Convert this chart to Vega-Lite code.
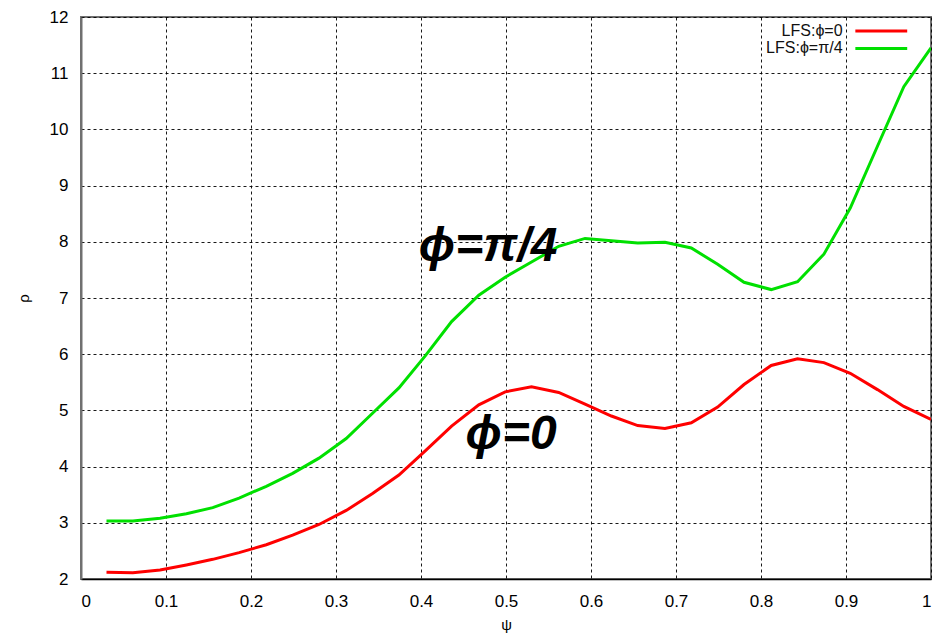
{
  "$schema": "https://vega.github.io/schema/vega-lite/v6.json",
  "width": 850,
  "height": 562,
  "autosize": "none",
  "padding": {"left": 81, "top": 17, "right": 4, "bottom": 56},
  "background": "white",
  "config": {
    "font": "Liberation Sans",
    "view": {"stroke": "#707070", "strokeWidth": 2}
  },
  "datasets": {
    "curves": [
      {"psi": 0.03, "rho": 2.12, "series": "LFS:ϕ=0"},
      {"psi": 0.061, "rho": 2.11, "series": "LFS:ϕ=0"},
      {"psi": 0.093, "rho": 2.16, "series": "LFS:ϕ=0"},
      {"psi": 0.124, "rho": 2.25, "series": "LFS:ϕ=0"},
      {"psi": 0.155, "rho": 2.35, "series": "LFS:ϕ=0"},
      {"psi": 0.186, "rho": 2.47, "series": "LFS:ϕ=0"},
      {"psi": 0.218, "rho": 2.61, "series": "LFS:ϕ=0"},
      {"psi": 0.249, "rho": 2.78, "series": "LFS:ϕ=0"},
      {"psi": 0.28, "rho": 2.97, "series": "LFS:ϕ=0"},
      {"psi": 0.312, "rho": 3.22, "series": "LFS:ϕ=0"},
      {"psi": 0.343, "rho": 3.52, "series": "LFS:ϕ=0"},
      {"psi": 0.374, "rho": 3.85, "series": "LFS:ϕ=0"},
      {"psi": 0.405, "rho": 4.28, "series": "LFS:ϕ=0"},
      {"psi": 0.436, "rho": 4.72, "series": "LFS:ϕ=0"},
      {"psi": 0.468, "rho": 5.1, "series": "LFS:ϕ=0"},
      {"psi": 0.499, "rho": 5.33, "series": "LFS:ϕ=0"},
      {"psi": 0.53, "rho": 5.42, "series": "LFS:ϕ=0"},
      {"psi": 0.562, "rho": 5.32, "series": "LFS:ϕ=0"},
      {"psi": 0.593, "rho": 5.11, "series": "LFS:ϕ=0"},
      {"psi": 0.624, "rho": 4.9, "series": "LFS:ϕ=0"},
      {"psi": 0.655, "rho": 4.73, "series": "LFS:ϕ=0"},
      {"psi": 0.687, "rho": 4.68, "series": "LFS:ϕ=0"},
      {"psi": 0.718, "rho": 4.78, "series": "LFS:ϕ=0"},
      {"psi": 0.749, "rho": 5.06, "series": "LFS:ϕ=0"},
      {"psi": 0.78, "rho": 5.46, "series": "LFS:ϕ=0"},
      {"psi": 0.812, "rho": 5.8, "series": "LFS:ϕ=0"},
      {"psi": 0.843, "rho": 5.92, "series": "LFS:ϕ=0"},
      {"psi": 0.874, "rho": 5.85, "series": "LFS:ϕ=0"},
      {"psi": 0.905, "rho": 5.66, "series": "LFS:ϕ=0"},
      {"psi": 0.937, "rho": 5.37, "series": "LFS:ϕ=0"},
      {"psi": 0.968, "rho": 5.07, "series": "LFS:ϕ=0"},
      {"psi": 1.0, "rho": 4.84, "series": "LFS:ϕ=0"},
      {"psi": 0.03, "rho": 3.03, "series": "LFS:ϕ=π/4"},
      {"psi": 0.061, "rho": 3.03, "series": "LFS:ϕ=π/4"},
      {"psi": 0.093, "rho": 3.08, "series": "LFS:ϕ=π/4"},
      {"psi": 0.124, "rho": 3.16, "series": "LFS:ϕ=π/4"},
      {"psi": 0.155, "rho": 3.27, "series": "LFS:ϕ=π/4"},
      {"psi": 0.186, "rho": 3.44, "series": "LFS:ϕ=π/4"},
      {"psi": 0.218, "rho": 3.65, "series": "LFS:ϕ=π/4"},
      {"psi": 0.249, "rho": 3.88, "series": "LFS:ϕ=π/4"},
      {"psi": 0.28, "rho": 4.15, "series": "LFS:ϕ=π/4"},
      {"psi": 0.312, "rho": 4.5, "series": "LFS:ϕ=π/4"},
      {"psi": 0.343, "rho": 4.95, "series": "LFS:ϕ=π/4"},
      {"psi": 0.374, "rho": 5.4, "series": "LFS:ϕ=π/4"},
      {"psi": 0.405, "rho": 5.97, "series": "LFS:ϕ=π/4"},
      {"psi": 0.436, "rho": 6.58, "series": "LFS:ϕ=π/4"},
      {"psi": 0.468, "rho": 7.05, "series": "LFS:ϕ=π/4"},
      {"psi": 0.499, "rho": 7.37, "series": "LFS:ϕ=π/4"},
      {"psi": 0.53, "rho": 7.64, "series": "LFS:ϕ=π/4"},
      {"psi": 0.562, "rho": 7.92, "series": "LFS:ϕ=π/4"},
      {"psi": 0.593, "rho": 8.06, "series": "LFS:ϕ=π/4"},
      {"psi": 0.624, "rho": 8.02, "series": "LFS:ϕ=π/4"},
      {"psi": 0.655, "rho": 7.98, "series": "LFS:ϕ=π/4"},
      {"psi": 0.687, "rho": 7.99, "series": "LFS:ϕ=π/4"},
      {"psi": 0.718, "rho": 7.89, "series": "LFS:ϕ=π/4"},
      {"psi": 0.749, "rho": 7.6, "series": "LFS:ϕ=π/4"},
      {"psi": 0.78, "rho": 7.28, "series": "LFS:ϕ=π/4"},
      {"psi": 0.812, "rho": 7.15, "series": "LFS:ϕ=π/4"},
      {"psi": 0.843, "rho": 7.29, "series": "LFS:ϕ=π/4"},
      {"psi": 0.874, "rho": 7.78, "series": "LFS:ϕ=π/4"},
      {"psi": 0.905, "rho": 8.6, "series": "LFS:ϕ=π/4"},
      {"psi": 0.937, "rho": 9.7, "series": "LFS:ϕ=π/4"},
      {"psi": 0.968, "rho": 10.76, "series": "LFS:ϕ=π/4"},
      {"psi": 1.0, "rho": 11.45, "series": "LFS:ϕ=π/4"}
    ],
    "legendRows": [
      {"psi": 0.896, "psi1": 0.911, "psi2": 0.972, "rho": 11.75, "series": "LFS:ϕ=0"},
      {"psi": 0.896, "psi1": 0.911, "psi2": 0.972, "rho": 11.44, "series": "LFS:ϕ=π/4"}
    ],
    "bigLabels": [
      {"psi": 0.479, "rho": 7.66, "label": "ϕ=π/4"},
      {"psi": 0.506, "rho": 4.32, "label": "ϕ=0"}
    ]
  },
  "layer": [
    {
      "data": {"name": "curves"},
      "mark": {"type": "line", "strokeWidth": 3, "clip": true},
      "encoding": {
        "x": {
          "field": "psi", "type": "quantitative",
          "scale": {"domain": [0, 1], "nice": false, "zero": false},
          "axis": {
            "title": "ψ", "values": [0, 0.1, 0.2, 0.3, 0.4, 0.5, 0.6, 0.7, 0.8, 0.9, 1],
            "format": "~g", "labelFontSize": 17, "labelColor": "black", "labelPadding": 14,
            "ticks": false, "domainColor": "black", "domainWidth": 1.5,
            "grid": true, "gridColor": "black", "gridDash": [3, 3], "gridOpacity": 0.9, "gridWidth": 1,
            "titleFontSize": 15, "titleFontWeight": "normal", "titleColor": "black", "titlePadding": 8
          }
        },
        "y": {
          "field": "rho", "type": "quantitative",
          "scale": {"domain": [2, 12], "nice": false, "zero": false},
          "axis": {
            "title": "ρ", "values": [2, 3, 4, 5, 6, 7, 8, 9, 10, 11, 12],
            "format": "d", "labelFontSize": 17, "labelColor": "black", "labelPadding": 13,
            "ticks": false, "domainColor": "#707070", "domainWidth": 2,
            "grid": true, "gridColor": "black", "gridDash": [3, 3], "gridOpacity": 0.9, "gridWidth": 1,
            "titleFontSize": 15, "titleFontWeight": "normal", "titleColor": "black", "titlePadding": 18
          }
        },
        "color": {
          "field": "series", "type": "nominal",
          "scale": {"domain": ["LFS:ϕ=0", "LFS:ϕ=π/4"], "range": ["#ff0000", "#00e000"]},
          "legend": null
        }
      }
    },
    {
      "data": {"name": "legendRows"},
      "mark": {"type": "text", "align": "right", "baseline": "middle", "fontSize": 16, "color": "#111111"},
      "encoding": {
        "x": {"field": "psi", "type": "quantitative"},
        "y": {"field": "rho", "type": "quantitative"},
        "text": {"field": "series"}
      }
    },
    {
      "data": {"name": "legendRows"},
      "mark": {"type": "rule", "strokeWidth": 3},
      "encoding": {
        "x": {"field": "psi1", "type": "quantitative"},
        "x2": {"field": "psi2"},
        "y": {"field": "rho", "type": "quantitative"},
        "color": {"field": "series", "type": "nominal", "legend": null}
      }
    },
    {
      "data": {"name": "bigLabels"},
      "mark": {"type": "text", "align": "center", "baseline": "alphabetic", "fontSize": 48, "fontWeight": "bold", "fontStyle": "italic", "color": "black"},
      "encoding": {
        "x": {"field": "psi", "type": "quantitative"},
        "y": {"field": "rho", "type": "quantitative"},
        "text": {"field": "label"}
      }
    }
  ]
}
